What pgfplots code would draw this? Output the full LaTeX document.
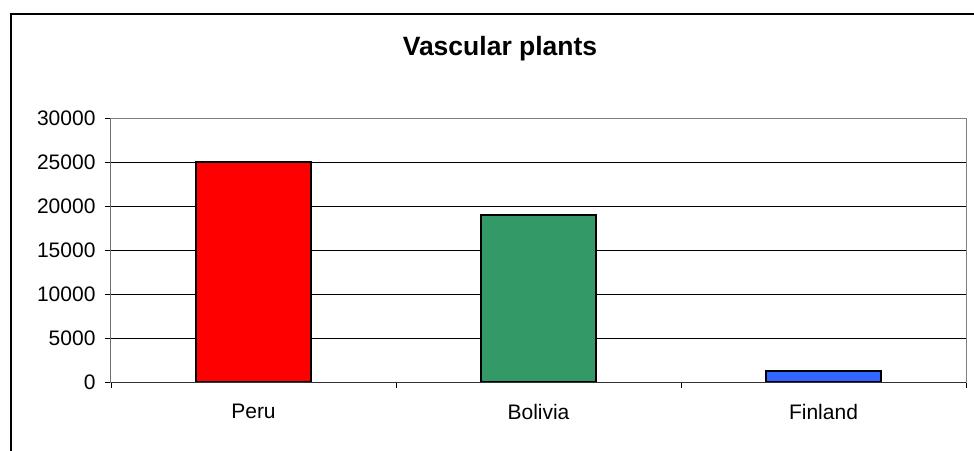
\documentclass[border=0pt]{standalone}
\usepackage{pgfplots}
\pgfplotsset{compat=1.18}
\usepackage{fontspec}
\setmainfont{Liberation Sans}
\definecolor{bgreen}{HTML}{339966}
\definecolor{bblue}{HTML}{3366FF}
\begin{document}
\begin{tikzpicture}
\useasboundingbox (-111pt,-68pt) rectangle (863pt,382pt);
\draw[line width=2pt] (-100pt,-80pt) -- (-100pt,368pt) -- (880pt,368pt);
\node[font=\bfseries\fontsize{26.5}{30}\selectfont] at (389pt,333pt) {Vascular plants};
\begin{axis}[
  at={(0pt,0pt)}, anchor=south west,
  scale only axis, width=855pt, height=264pt,
  xmin=-0.5, xmax=2.5, ymin=0, ymax=30000,
  ytick={0,5000,...,30000},
  scaled y ticks=false,
  xtick={-0.5,0.5,1.5,2.5}, xticklabels={,,,},
  extra x ticks={0,1,2},
  extra x tick labels={Peru,Bolivia,Finland},
  extra x tick style={major tick length=0pt},
  xtick pos=lower, ytick pos=left,
  tick align=outside, major tick length=6pt,
  tick style={black, line width=0.8pt},
  ymajorgrids, grid style={black, line width=0.8pt},
  axis line style={gray, line width=1pt},
  ticklabel style={font=\fontsize{21}{25}\selectfont},
  xticklabel style={yshift=-19pt},
  yticklabel style={xshift=-6pt},
  /pgf/number format/1000 sep={},
  /pgf/number format/assume math mode=true,
  bar width=0.404,
]
\addplot[ybar, bar shift=0pt, fill=red, draw=black, line width=1.6pt] coordinates {(0,25000)};
\addplot[ybar, bar shift=0pt, fill=bgreen, draw=black, line width=1.6pt] coordinates {(1,19000)};
\addplot[ybar, bar shift=0pt, fill=bblue, draw=black, line width=1.6pt] coordinates {(2,1250)};
\draw[black, line width=1pt] (rel axis cs:0,0) -- (rel axis cs:0,1);
\draw[black!80, line width=1pt] (rel axis cs:0,0) -- (rel axis cs:1,0);
\end{axis}
\end{tikzpicture}
\end{document}
